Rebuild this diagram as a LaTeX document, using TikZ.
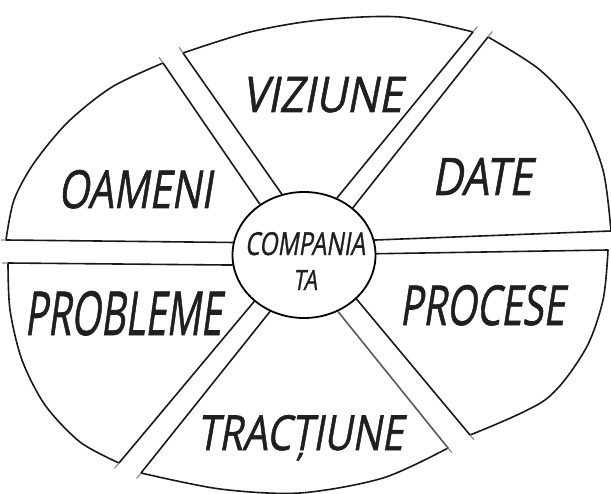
\documentclass[tikz,border=0pt]{standalone}
\usepackage{fontspec}
\usetikzlibrary{shapes.geometric,calc}
\newfontfamily\hand{Open Sans}[FakeSlant=0.22,FakeBold=1.2]
\newcommand\handlab[3]{\resizebox{#2bp}{#3bp}{\hand #1}}
\begin{document}
\begin{tikzpicture}[x=1bp,y=-1bp,
  seg/.style={line width=1.6bp, line join=round, line cap=round, draw=black!90},
  tick/.style={line width=1.2bp, draw=black!45},
  lab/.style={inner sep=0pt, anchor=base, text=black!88}]
\useasboundingbox (0,0) rectangle (611,494);
\node[ellipse, draw, line width=1.8bp, minimum width=143bp, minimum height=126bp, inner sep=0pt] (c) at (304,255) {};
% outer corners
\coordinate (a1) at (163,63);  \coordinate (a2) at (6,240);
\coordinate (b1) at (183,53);  \coordinate (b2) at (473,32);
\coordinate (d1) at (488,37);  \coordinate (d2) at (611,231);
\coordinate (p1) at (608,250); \coordinate (p2) at (470,435);
\coordinate (t1) at (448,448); \coordinate (t2) at (141,473);
\coordinate (r1) at (119,463); \coordinate (r2) at (8,263);
% OAMENI
\draw[seg] (c.131) -- (a1) -- plot[smooth] coordinates {(a1) (112,87) (68,122) (34,163) (14,200) (a2)} -- (c.170);
% VIZIUNE
\draw[seg] (c.110) -- (b1) -- plot[smooth] coordinates {(b1) (250,32) (320,20) (400,17) (b2)} -- (c.60.5);
% DATE
\draw[seg] (c.44.5) -- (d1) -- plot[smooth] coordinates {(d1) (540,70) (580,115) (603,170) (d2)} -- (c.12);
% PROCESE
\draw[seg] (c.1) -- (p1) -- plot[smooth] coordinates {(p1) (603,300) (585,350) (545,400) (p2)} -- (c.-40);
% TRACTIUNE
\draw[seg] (c.-121.7) -- (t2) -- plot[smooth] coordinates {(t2) (220,489) (300,493) (383,478) (t1)};
\draw[seg, draw=black!65] (t1) -- (c.-59);
% PROBLEME
\draw[seg] (c.-137) -- (r1) -- plot[smooth] coordinates {(r1) (80,442) (45,405) (22,360) (10,310) (r2)} -- (c.188);
% little overshoot ticks at corners
\draw[tick] (a1) -- ($(a1)!-7bp!(c.131)$);
\draw[tick] (b1) -- ($(b1)!-7bp!(c.110)$);
\draw[tick] (b2) -- ($(b2)!-7bp!(c.60.5)$);
\draw[tick] (d1) -- ($(d1)!-7bp!(c.44.5)$);
\draw[tick] (p2) -- ($(p2)!-6bp!(c.-40)$);
\draw[tick] (t1) -- ($(t1)!-6bp!(c.-59)$);
\draw[tick] (t2) -- ($(t2)!-7bp!(c.-121.7)$);
\draw[tick] (r1) -- ($(r1)!-7bp!(c.-137)$);
\draw[tick] (r2) -- ($(r2)!-6bp!(c.188)$);
\draw[tick] (a2) -- ($(a2)!-5bp!(c.170)$);
% labels
\node[lab] (lviz) at (322,112) {\handlab{VIZIUNE}{160}{35}};
\node[lab] (ldate) at (482,195) {\handlab{DATE}{100}{37}};
\node[lab] (loam) at (135,208) {\handlab{OAMENI}{154}{38}};
\node[lab] (lprob) at (123,335) {\handlab{PROBLEME}{197}{44}};
\node[lab] (lproc) at (482,325) {\handlab{PROCESE}{165}{40}};
\node[lab] (ltrac) at (300,450) {\handlab{TRACȚIUNE}{206}{35}};
\node[lab] (lcomp) at (305,255) {\handlab{COMPANIA}{120}{23}};
\node[lab] (lta) at (305,290) {\handlab{TA}{24}{20}};
\end{tikzpicture}
\end{document}
